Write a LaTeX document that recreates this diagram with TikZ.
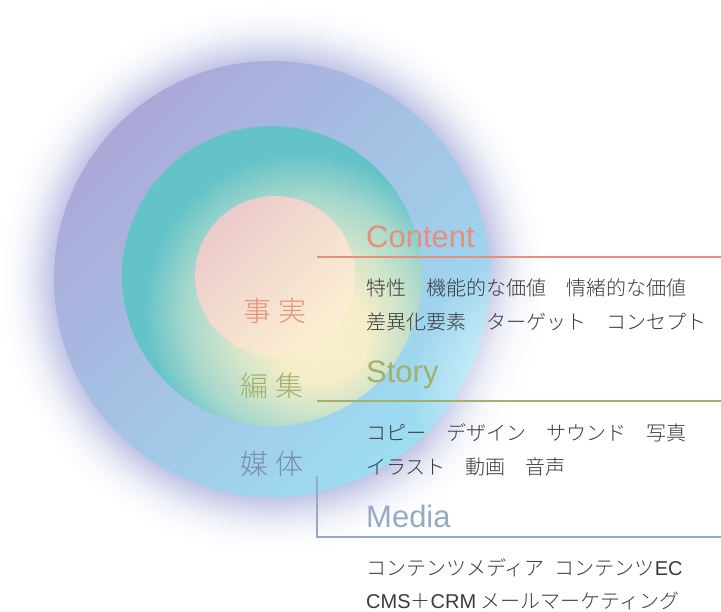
\documentclass[tikz,border=0pt]{standalone}
\usepackage{fontspec}
\IfFontExistsTF{Noto Sans CJK JP Light}
  {\setmainfont{Noto Sans CJK JP Light}}
  {\setmainfont{Noto Sans CJK JP}}
\newfontfamily\latinfont{Liberation Sans}
\usetikzlibrary{fadings}

\definecolor{halo}{HTML}{ACB2DC}
\definecolor{outertop}{HTML}{ACA8D8}
\definecolor{outermid}{HTML}{9CC2EA}
\definecolor{outerbot}{HTML}{9CDEF2}
\definecolor{middleteal}{HTML}{64C3C8}
\definecolor{middlemint}{HTML}{A8D8CC}
\definecolor{middlepale}{HTML}{D2E5CA}
\definecolor{middlecream}{HTML}{F4EDC8}
\definecolor{middlecore}{HTML}{F9F0CB}
\definecolor{innertop}{HTML}{EBCACB}
\definecolor{innerbot}{HTML}{FCF0D2}
\definecolor{contentc}{HTML}{E5907C}
\definecolor{storyc}{HTML}{A2B06C}
\definecolor{mediac}{HTML}{96AAC4}
\definecolor{mediatext}{HTML}{7A8EA8}
\definecolor{itemc}{HTML}{3A3A3A}

\pgfdeclareradialshading{haloshade}{\pgfpoint{0bp}{0bp}}{color(0bp)=(halo); color(19.8bp)=(halo!75); color(21.3bp)=(halo!40); color(22.6bp)=(halo!16); color(23.8bp)=(halo!5); color(25bp)=(white); color(50bp)=(white)}
\pgfdeclareradialshading{middleshade}{\pgfpoint{9.7bp}{-11.5bp}}{color(0bp)=(middlecore); color(8bp)=(middlecream); color(14bp)=(middlepale); color(20bp)=(middlemint); color(26bp)=(middleteal); color(50bp)=(middleteal)}
\tikzfading[name=fadeout, inner color=transparent!0, outer color=transparent!100]

\begin{document}
\begin{tikzpicture}[x=1pt, y=-1pt,
  disk/.style = {shading angle=45},
  ring/.style = {font=\fontsize{28}{28}\selectfont, anchor=center, inner sep=0pt},
  head/.style = {font=\latinfont\fontsize{31}{31}\selectfont, anchor=base west, inner sep=0pt},
  itemtext/.style = {font=\fontsize{20}{20}\selectfont, text=itemc, anchor=west, inner sep=0pt},
  rule/.style = {line width=1.6pt}]
  \useasboundingbox (0,0) rectangle (721,612);
  \coordinate (c) at (272,279);
  \shade[shading=haloshade] (c) circle (275);
  \shade[top color=outertop, middle color=outermid, bottom color=outerbot, disk] (c) circle (218);
  \fill[white, path fading=fadeout] (560,390) circle (150);
  \shade[shading=middleshade] (272,276) circle (150);
  \shade[top color=innertop, bottom color=innerbot, disk] (275,276) circle (80);

  \coordinate (cs) at (317,257);
  \coordinate (ce) at (721,257);
  \coordinate (ss) at (317,401);
  \coordinate (se) at (721,401);
  \coordinate (ms) at (317,476);
  \coordinate (me) at (721,537);
  \draw[rule, contentc] (cs) -- (ce);
  \draw[rule, storyc] (ss) -- (se);
  \draw[rule, mediac] (ms) |- (me);

  \node[ring, text=contentc] (fact) at (275,311) {事 実};
  \node[ring, text=storyc] (edit) at (272,386) {編 集};
  \node[ring, text=mediatext] (medium) at (272,464) {媒 体};

  \node[head, text=contentc] (content) at (366,248) {Content};
  \node[head, text=storyc] (story) at (366,383) {Story};
  \node[head, text=mediac] (media) at (366,528) {Media};

  \node[itemtext] (c1) at (366,288) {特性　機能的な価値　情緒的な価値};
  \node[itemtext] (c2) at (366,322) {差異化要素　ターゲット　コンセプト};
  \node[itemtext] (s1) at (366,433) {コピー　デザイン　サウンド　写真};
  \node[itemtext] (s2) at (366,467) {イラスト　動画　音声};
  \node[itemtext] (m1) at (366,568) {コンテンツメディア\hspace{.5em}コンテンツ{\latinfont EC}};
  \node[itemtext] (m2) at (366,601) {{\latinfont CMS}＋{\latinfont CRM} メールマーケティング};
\end{tikzpicture}
\end{document}
